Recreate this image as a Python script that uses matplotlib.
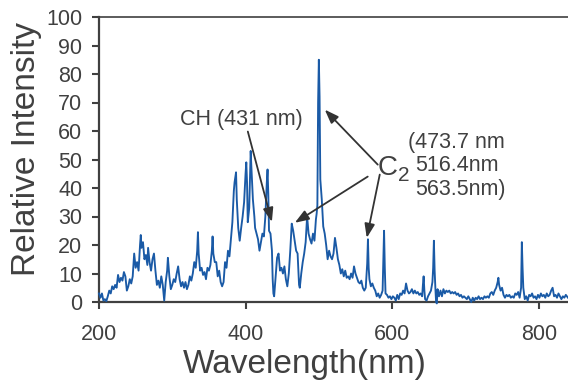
import matplotlib
matplotlib.use('Agg')
import matplotlib.pyplot as plt

wavelength = [
    200, 202, 204, 206, 208, 210, 212, 214, 216, 218, 220, 222, 224, 226, 228, 230, 232, 234, 236, 238,
    240, 242, 244, 246, 248, 250, 252, 254, 256, 257, 258, 260, 262, 264, 266, 267, 269, 271, 273, 275,
    277, 279, 281, 283, 285, 287, 289, 291, 293, 294, 296, 298, 300, 302, 304, 306, 308, 310, 312, 314,
    316, 318, 320, 322, 324, 326, 328, 330, 332, 334, 335, 336, 338, 340, 342, 344, 346, 348, 350, 352,
    354, 355, 356, 358, 360, 362, 364, 366, 368, 370, 372, 374, 376, 378, 380, 382, 384, 385, 387, 388,
    390, 392, 394, 396, 398, 400, 401, 402, 403, 405, 407, 408, 410, 412, 413, 415, 417, 419, 421, 423,
    425, 427, 429, 430, 431, 432, 434, 436, 437, 438, 439, 441, 443, 445, 447, 449, 451, 453, 455, 457,
    459, 461, 463, 465, 467, 469, 471, 473, 474, 476, 478, 480, 482, 484, 486, 488, 490, 492, 494, 496,
    497, 498, 499, 500, 501, 502, 504, 506, 508, 510, 512, 514, 516, 518, 520, 522, 524, 526, 528, 530,
    532, 534, 536, 538, 540, 542, 544, 546, 548, 550, 552, 554, 556, 558, 560, 562, 564, 566, 567, 568,
    569, 571, 573, 575, 577, 579, 581, 583, 585, 587, 588, 589, 590, 591, 593, 595, 597, 599, 601, 603,
    605, 607, 609, 611, 613, 615, 617, 619, 621, 623, 625, 627, 629, 631, 633, 635, 637, 639, 641, 642,
    643, 644, 645, 647, 649, 651, 653, 655, 656, 657, 658, 659, 660, 661, 662, 664, 666, 668, 670, 672,
    674, 676, 678, 680, 682, 684, 686, 688, 690, 692, 694, 696, 698, 700, 702, 704, 706, 708, 710, 712,
    714, 716, 718, 720, 722, 724, 726, 728, 730, 732, 734, 736, 738, 740, 742, 744, 745, 746, 748, 750,
    752, 754, 756, 758, 760, 762, 764, 766, 768, 770, 772, 774, 776, 777, 778, 779, 781, 783, 785, 787,
    789, 791, 793, 795, 797, 799, 801, 803, 805, 807, 809, 811, 813, 815, 817, 819, 821, 823, 825, 827,
    829, 831, 833, 835, 837, 840,
]

intensity = [
    3, 1.5, 3, 0.5, 1, 0.3, 2, 4, 3, 5.5, 4.5, 6, 5, 9.5, 7, 8.5, 7.5, 10.5, 9, 4,
    5.5, 8, 6.5, 9, 17, 12, 14, 11, 20, 23.5, 19, 21, 15, 16.5, 13, 19, 14, 11, 15, 17,
    11, 6, 7.5, 5, 9, 6, 0.5, 7, 11, 15.5, 9, 4.5, 6, 8, 7, 10, 12.5, 8, 5.5, 7,
    5, 7, 4.5, 6, 9, 7.5, 10, 14, 12, 18, 24.5, 17, 11, 12, 9.5, 10.5, 8, 12, 11, 13,
    18, 23, 17, 14, 14, 9, 11, 7, 5.5, 7, 14, 12, 18, 16, 22, 28, 39, 42, 45.5, 36,
    26, 21.5, 26, 30, 35, 45, 49, 42, 28, 33, 53, 47, 36, 30, 26, 24, 22, 18, 21, 24,
    23, 30, 42, 46.5, 38, 25, 24, 18, 8, 3, 2, 9, 15.5, 17, 11, 12, 10, 12.5, 8, 5.5,
    10, 18, 27.5, 25, 21.5, 18, 17, 6, 5, 10, 14, 17, 21, 30, 24, 22, 20.5, 24, 21.5, 29,
    31, 34, 70, 85, 72, 43, 36, 26.5, 24, 20, 15, 18, 16, 15, 17, 22.5, 19, 15, 13, 10,
    11.5, 9, 11, 8.5, 9, 8, 10, 8.5, 12.5, 10, 8.5, 7, 6.5, 7.5, 5, 4, 5, 13.5, 22, 12,
    8, 5.5, 6.5, 5, 4, 2, 3, 1.5, 2.5, 4, 15, 25, 12, 3, 2.5, 1.5, 2, 1, 2, 1.5,
    0.5, 2.5, 1, 3, 2.5, 4, 3, 6.5, 4, 3, 3.5, 4.5, 3, 4, 3, 3.5, 2.5, 3, 2, 6,
    9, 4, 1, 0.5, 2, 3, 4, 7, 12, 21.5, 11, 5, 0, -0.5, 4.5, 2, 4, 2, 4.5, 3,
    4, 3.5, 4, 3, 3.5, 3, 3.5, 2.5, 3, 2, 2.5, 1.5, 2, 1.5, 1, 2, 1, 0, 1.5, 0.5,
    1.5, 1, 2, 1, 1.5, 1, 2, 1.5, 2, 1.5, 3, 3.5, 2.5, 4, 5, 7, 8.5, 6, 4, 5,
    2.5, 1.5, 2.5, 2, 2.5, 1.5, 2, 1.5, 3, 2.5, 3.5, 1.5, 5, 21, 12, 5, 1, 2, 0.5, 2.5,
    2, 3, 1.5, 2, 1, 2.5, 1.5, 3, 2, 2.5, 1.5, 3, 2, 2.5, 4, 5, 2, 2.5, 1.5, 3,
    2, 1, 2, 1.5, 2.5, 1.5,
]

x_ticks = [200, 400, 600, 800]
y_ticks = [0, 10, 20, 30, 40, 50, 60, 70, 80, 90, 100]

ch_label = "CH (431 nm)"
c2_lines = ["(473.7 nm", "516.4nm", "563.5nm)"]

plt.rcParams['font.family'] = ['Liberation Sans', 'DejaVu Sans']

W, H = 568, 381
fig = plt.figure(figsize=(W / 100, H / 100), dpi=100)
ax = fig.add_axes([99 / W, 1 - 302 / H, 469 / W, 285 / H])

line_color = '#1a5aa6'
text_color = '#404040'

ax.plot(wavelength, intensity, color=line_color, lw=1.35, clip_on=False, zorder=3)
ax.set_xlim(200, 840)
ax.set_ylim(0, 100)
ax.set_xticks(x_ticks)
ax.set_yticks(y_ticks)

for s in ['left', 'bottom', 'top']:
    ax.spines[s].set_color(text_color)
    ax.spines[s].set_linewidth(1.6)
ax.spines['top'].set_linewidth(1.2)
ax.spines['right'].set_visible(False)

ax.tick_params(axis='both', colors=text_color, labelcolor=text_color,
               direction='out', length=5, width=1.5, labelsize=15.5)
ax.tick_params(axis='x', pad=11)
ax.tick_params(axis='y', pad=7)

fig.text(27 / W, 1 - 149 / H, "Relative Intensity", rotation=90, ha='center', va='center',
         fontsize=24, color=text_color)
fig.text(305 / W, 1 - 373 / H, "Wavelength(nm)", ha='center', va='baseline',
         fontsize=24, color=text_color)

arrow_kw = dict(arrowstyle='-|>,head_length=0.6,head_width=0.22', color='#333333',
                lw=1.3, mutation_scale=14, shrinkA=0, shrinkB=0)

ax.text(310.4, 62.2, ch_label, fontsize=15.5, color=text_color, ha='left', va='baseline')
ax.annotate('', xy=(435.9, 28.1), xytext=(403.1, 59.8), arrowprops=arrow_kw)

ax.text(580.5, 44.6, "C", fontsize=20, color=text_color, ha='left', va='baseline')
ax.text(607.5, 42.6, "2", fontsize=15, color=text_color, ha='left', va='baseline')
ax.annotate('', xy=(508.1, 67.5), xytext=(580.4, 48.2), arrowprops=arrow_kw)
ax.annotate('', xy=(467.2, 27.8), xytext=(566.7, 44.0), arrowprops=arrow_kw)
ax.annotate('', xy=(565.4, 22.5), xytext=(583.1, 44.7), arrowprops=arrow_kw)

ax.text(621.3, 54.1, c2_lines[0], fontsize=15.5, color=text_color, ha='left', va='baseline')
ax.text(630.8, 46.0, c2_lines[1], fontsize=15.5, color=text_color, ha='left', va='baseline')
ax.text(630.8, 37.6, c2_lines[2], fontsize=15.5, color=text_color, ha='left', va='baseline')

fig.savefig('out.png', dpi=100)
